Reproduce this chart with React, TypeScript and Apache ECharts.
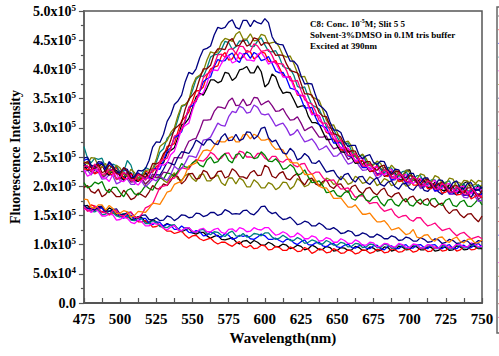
import React, { useEffect, useRef } from "react";
import * as echarts from "echarts";

// Emission wavelengths (nm), sampled every 2.5 nm from 475 to 750
const wavelengths: number[] = [];
for (let w = 475; w <= 750; w += 2.5) wavelengths.push(w);

// Fluorescence intensity of each spectrum, in units of 10^4 counts
const s01Black = [16.6,16.7,16.0,15.9,16.4,16.3,15.6,16.3,15.9,15.1,15.0,15.3,15.2,14.3,14.4,14.8,14.6,13.9,13.8,14.3,13.9,13.2,13.2,13.6,13.3,13.3,12.6,12.2,12.5,12.8,12.0,11.8,12.1,12.1,11.5,11.1,11.4,11.6,10.9,10.8,11.0,11.2,10.5,10.1,10.6,10.7,10.2,10.7,10.4,9.9,9.9,10.4,10.1,9.6,9.7,10.1,9.9,9.3,9.5,9.9,9.7,9.1,9.3,9.9,9.6,9.1,9.2,9.7,9.5,8.9,9.0,9.5,9.4,9.0,9.1,9.7,9.5,9.0,9.0,9.6,9.4,8.9,9.0,9.6,9.5,8.9,9.1,9.7,9.6,9.1,9.2,9.8,9.6,9.1,9.1,9.6,9.5,8.9,9.0,9.6,9.5,9.0,9.1,9.8,9.6,9.1,9.2,9.8,9.7,9.3,9.3];
const s02Red = [16.2,16.1,16.8,16.6,15.8,15.6,15.9,15.1,15.3,15.6,15.1,14.7,14.6,15.0,14.4,13.9,13.9,14.1,13.7,13.0,13.1,13.4,12.8,12.3,12.3,11.9,12.1,12.3,11.6,11.1,11.5,11.6,11.0,10.7,10.9,11.1,10.5,10.1,10.4,10.4,10.0,9.7,10.2,10.5,9.7,9.5,9.9,9.3,9.4,9.9,9.8,9.1,9.2,9.7,9.5,9.0,9.0,9.6,9.3,8.8,8.9,9.5,9.2,8.5,8.8,9.3,9.1,8.6,8.7,9.3,9.0,8.5,8.6,9.1,8.9,8.4,8.6,9.1,9.0,8.5,8.7,9.2,9.1,8.6,8.7,9.3,9.1,8.7,8.8,9.3,9.2,8.7,8.9,9.4,9.3,8.8,8.9,9.6,9.4,8.9,9.0,9.6,9.5,8.9,9.1,9.7,9.6,9.1,9.2,9.6,9.5];
const s03Blue = [16.4,15.9,15.9,16.4,16.2,16.3,15.4,15.2,15.7,15.5,14.9,14.5,15.0,15.0,14.3,14.1,14.5,14.5,13.7,13.4,13.9,13.8,13.1,13.5,13.3,12.6,12.6,13.2,12.7,12.1,12.0,12.4,12.2,11.5,11.6,12.2,11.9,11.4,11.3,11.9,11.6,10.9,11.1,11.6,11.4,11.6,11.0,10.9,11.3,11.8,11.5,10.9,10.9,11.1,10.7,10.4,10.9,10.9,10.3,10.0,10.5,10.8,10.0,9.9,10.3,10.4,9.8,9.6,10.1,10.2,9.6,9.5,9.9,10.1,9.5,9.4,9.8,10.0,9.4,9.3,9.8,9.9,9.3,9.1,9.7,9.8,9.3,9.3,9.8,10.0,9.4,9.4,9.9,10.0,9.5,9.3,9.9,10.0,9.4,9.3,9.8,10.0,9.3,9.3,9.8,9.9,9.4,9.5,9.9,10.2,9.6];
const s04Cyan = [16.3,16.3,15.7,15.6,16.0,15.1,15.2,15.8,15.5,14.9,14.7,15.3,14.9,14.2,14.1,14.6,14.4,13.6,13.6,14.1,13.8,13.1,13.0,12.9,13.3,13.4,12.7,12.3,12.9,12.9,12.2,12.1,12.5,12.6,11.9,11.7,12.2,12.1,11.6,11.4,12.0,12.3,11.5,11.4,11.9,11.3,11.4,11.9,11.8,11.5,12.0,12.0,11.3,10.9,11.1,11.6,11.2,10.7,10.7,11.2,10.9,10.2,10.4,10.8,10.6,10.1,10.1,10.7,10.4,9.9,9.9,10.4,10.2,9.6,9.7,10.2,10.1,9.5,9.6,10.1,10.0,9.5,9.5,10.1,9.9,9.4,9.4,10.0,9.9,9.3,9.5,10.0,9.9,9.4,9.4,10.0,9.8,9.3,9.3,9.9,9.8,9.2,9.4,10.0,9.9,9.4,9.5,10.0,10.0,9.4,9.6];
const s05Magenta = [16.0,16.1,15.5,16.1,15.7,14.9,14.9,15.2,15.1,14.2,14.3,14.7,14.5,13.8,13.6,14.2,13.9,13.2,13.2,13.7,13.5,13.5,12.8,12.5,13.0,13.3,12.5,12.4,12.8,12.9,12.3,12.1,12.6,12.8,12.2,12.2,12.6,12.8,12.1,11.9,12.6,12.7,12.2,12.9,12.7,12.2,12.3,12.9,12.6,12.5,12.9,12.9,12.2,11.6,11.8,12.2,11.9,11.3,11.4,12.0,11.6,11.0,11.0,11.5,11.3,10.6,10.7,11.2,11.0,10.4,10.4,11.0,10.7,10.2,10.2,10.8,10.5,9.9,9.9,10.4,10.3,9.6,9.7,10.2,10.1,9.6,9.6,10.2,10.0,9.5,9.5,10.1,10.0,9.4,9.5,10.0,9.9,9.4,9.4,10.1,9.9,9.4,9.5,10.1,10.0,9.6,9.6,10.3,10.1,9.6,9.7];
const s06Olive = [23.2,23.4,22.5,23.7,23.0,21.8,22.0,22.6,22.4,21.1,21.5,22.3,21.8,20.9,21.0,21.9,21.3,20.3,20.9,21.7,21.4,21.8,21.0,20.6,21.6,22.3,21.2,21.0,21.8,22.2,21.3,20.8,21.9,22.1,20.9,20.9,21.6,21.9,20.6,20.1,21.4,21.4,20.4,21.4,21.0,19.9,19.9,21.1,20.6,19.7,19.7,20.6,20.3,19.4,19.8,20.7,20.6,19.5,20.0,21.3,20.8,19.9,20.2,21.1,21.0,20.0,20.4,21.4,21.1,20.3,20.5,21.7,21.2,20.3,20.6,21.7,21.3,20.5,20.7,21.6,21.2,20.1,20.5,21.3,21.0,20.1,20.3,21.3,20.8,20.0,20.2,21.1,20.7,19.7,20.0,20.8,20.6,19.7,19.9,20.9,20.4,19.6,19.8,20.8,20.5,19.8,19.9,21.1,20.6,19.8,20.2];
const s07Navy = [16.8,16.2,16.2,15.9,16.5,16.6,15.8,15.7,16.0,16.1,15.2,15.1,15.5,15.5,14.8,14.5,15.0,15.1,14.3,14.2,14.6,14.1,14.2,14.9,14.7,14.1,14.5,15.1,15.0,14.6,14.7,15.4,15.3,14.8,15.0,15.5,15.5,15.0,15.2,16.0,15.7,15.2,15.3,15.2,15.8,15.9,15.3,15.1,15.7,16.5,16.6,15.7,15.3,15.5,14.8,14.3,14.4,14.7,14.1,13.4,13.6,14.0,13.8,13.2,13.2,13.7,13.3,12.7,12.6,12.9,12.5,11.9,12.0,12.4,12.2,11.5,11.6,12.0,11.8,11.3,11.3,11.8,11.5,11.0,11.0,11.5,11.3,10.7,10.8,11.3,11.1,10.6,10.6,11.2,10.9,10.4,10.5,11.0,10.8,10.2,10.4,10.9,10.7,10.2,10.3,10.7,10.6,10.0,10.2,10.7,10.5];
const s08Wine = [19.8,20.1,19.1,18.8,19.5,18.2,18.6,19.5,18.9,18.2,18.2,19.3,18.6,17.7,18.0,18.8,18.5,18.1,19.0,20.1,19.6,19.5,20.4,20.1,20.9,22.0,21.6,20.4,21.0,22.1,22.2,21.2,21.4,22.7,22.4,21.3,21.5,22.5,22.6,21.4,21.7,23.0,22.5,21.6,21.6,21.3,22.3,22.7,21.8,21.9,23.6,23.2,21.7,21.4,22.2,22.5,21.3,21.1,21.8,22.2,20.9,20.2,21.2,21.4,20.4,20.1,20.8,21.1,20.0,19.6,20.3,20.4,19.5,18.9,19.9,20.2,19.2,18.7,19.6,19.8,18.9,18.5,19.3,19.7,18.5,18.1,18.7,18.9,17.9,17.3,18.1,18.3,17.4,16.9,17.6,17.9,16.8,16.4,16.9,17.1,16.0,15.3,15.9,16.0,15.1,14.6,15.2,15.3,14.5,13.9,14.9];
const s09Pink = [16.5,15.7,16.0,16.6,16.3,15.5,15.5,15.1,15.8,15.9,15.0,14.9,15.3,15.6,14.7,14.6,15.2,16.3,16.6,17.0,18.4,19.8,20.0,20.2,21.2,21.4,22.3,23.2,23.0,22.9,23.9,24.6,24.4,24.3,24.9,25.8,25.4,24.6,24.8,25.6,25.7,24.7,24.9,26.0,25.8,25.0,25.0,24.8,25.6,25.6,24.8,24.4,25.1,25.1,24.3,24.1,24.6,24.6,23.6,23.3,23.8,23.9,22.7,22.0,22.4,22.4,21.5,20.9,21.0,21.1,20.2,19.5,19.6,19.7,19.0,18.1,18.3,18.4,17.7,17.0,17.2,17.2,16.3,15.7,15.9,16.1,15.1,14.6,14.9,15.0,14.3,14.0,14.6,14.6,13.8,13.2,13.4,13.7,13.0,12.4,12.6,12.8,12.1,11.5,11.9,12.1,11.5,11.0,11.2,11.4,11.0];
const s10Green = [20.6,19.7,20.0,20.7,20.4,20.8,19.4,18.9,19.8,19.8,18.9,18.2,19.3,19.6,18.7,18.5,19.2,20.1,19.6,19.3,20.5,21.4,21.2,22.3,22.1,21.7,22.6,23.9,23.3,23.2,24.0,24.4,23.6,23.3,24.5,25.0,24.0,24.2,25.1,25.6,24.4,24.0,25.4,25.6,24.7,25.9,25.6,24.7,24.9,25.9,25.3,24.3,24.2,24.7,24.0,22.9,23.1,23.7,23.2,21.9,22.1,22.8,21.6,20.6,20.7,20.9,20.1,18.9,19.0,19.3,18.4,18.2,18.9,19.2,17.9,17.6,18.4,18.7,17.6,17.4,18.1,18.3,17.2,16.6,17.6,17.8,16.9,16.6,17.5,17.9,16.8,16.6,17.4,17.8,16.9,16.7,17.8,17.9,17.0,16.7,17.6,17.9,16.7,16.5,17.3,17.6,16.6,16.5,17.1,17.8,16.8];
const s11Violet = [22.5,22.7,21.9,23.1,22.4,21.2,21.3,22.0,21.8,20.4,20.7,21.6,21.2,20.3,20.3,21.3,20.8,19.9,20.5,21.2,20.9,21.7,21.3,21.0,22.0,23.4,22.9,23.0,24.0,25.2,25.1,24.9,26.3,27.9,28.0,28.4,29.6,30.8,30.4,30.3,31.9,32.8,32.6,33.7,33.4,32.5,32.7,33.9,33.5,32.4,32.2,32.4,31.4,30.3,30.6,30.8,29.9,28.7,29.0,29.7,28.6,27.6,27.8,28.1,27.3,26.2,26.5,26.9,26.0,25.1,25.2,25.8,24.7,23.8,24.0,24.5,23.5,22.7,22.8,23.2,22.4,21.3,21.7,22.4,22.0,21.0,21.1,21.9,21.3,20.4,20.4,21.2,20.7,19.6,19.8,20.5,20.1,19.1,19.2,20.1,19.5,18.6,18.6,19.4,18.9,18.1,18.0,19.0,18.3,17.4,17.6];
const s12Orange = [17.8,17.7,16.4,16.2,16.8,16.8,15.9,16.7,16.2,15.3,15.4,15.8,15.6,14.7,15.0,15.7,15.6,15.5,16.2,17.1,17.0,16.9,17.9,19.0,19.2,20.3,20.6,20.8,22.0,23.5,23.7,24.0,25.1,26.1,26.2,26.0,26.9,27.8,27.6,27.6,28.2,28.5,27.6,27.6,28.8,28.9,28.1,28.9,28.6,27.9,27.9,28.1,27.0,26.3,26.4,26.2,25.1,24.1,24.0,24.0,23.2,22.0,22.0,22.1,21.0,20.0,19.7,19.7,18.9,17.9,17.9,18.0,17.2,16.4,16.4,16.8,16.0,15.2,15.2,15.4,14.6,13.9,13.9,14.1,13.4,12.5,12.7,12.9,12.3,11.7,11.9,12.6,11.3,11.1,11.6,11.7,10.9,10.6,11.2,11.3,10.6,10.4,11.0,11.3,10.5,10.3,10.9,11.0,10.3,10.3,10.8];
const s13Purple = [23.1,23.4,22.4,22.2,22.9,21.5,21.8,22.8,22.3,21.4,21.2,22.4,21.7,20.7,20.8,21.5,21.2,20.4,21.0,22.1,21.5,21.5,22.4,22.3,23.4,24.9,24.9,24.8,26.4,27.7,28.0,28.2,29.6,31.3,31.3,31.4,32.8,33.6,33.5,33.3,34.6,35.1,33.8,33.9,34.9,33.8,34.0,35.2,35.1,33.9,34.3,34.6,33.8,32.8,32.9,33.3,32.2,31.3,31.4,31.9,30.8,29.5,29.9,30.2,29.3,28.4,28.4,28.6,27.3,26.4,26.6,26.7,25.7,24.6,25.0,25.2,24.1,23.2,23.6,23.8,23.0,22.1,22.3,23.3,22.6,21.6,21.6,22.4,21.9,20.7,20.9,21.6,21.2,20.2,20.3,21.2,20.6,19.7,19.7,20.5,20.0,18.8,19.0,19.7,19.4,18.4,18.5,19.1,18.9,17.8,18.2];
const s14Navy = [24.0,23.2,23.3,22.7,23.8,23.9,22.6,22.4,23.0,23.4,21.9,21.6,22.4,22.3,21.2,20.8,21.7,22.4,21.4,21.2,22.0,21.9,22.9,24.1,23.9,23.6,25.0,25.9,25.8,25.6,26.6,27.9,27.5,27.0,27.9,28.0,27.3,27.1,28.4,29.0,27.8,27.9,28.9,27.8,28.1,29.3,29.2,28.1,28.6,29.9,30.1,28.3,27.6,27.9,26.8,25.7,25.5,26.5,25.9,24.5,24.8,25.6,25.1,24.0,23.9,24.4,23.4,22.4,22.6,22.7,21.7,21.1,22.0,22.2,21.2,20.7,21.6,21.7,20.7,20.3,21.0,21.5,20.3,20.0,20.7,20.9,19.9,19.5,20.4,20.5,19.6,19.3,20.1,20.4,19.3,19.1,19.8,20.0,19.0,18.6,19.5,19.7,18.8,18.5,19.3,19.4,18.6,18.1,19.1,19.5,18.7];
const s15Black = [23.6,22.7,22.9,23.7,23.4,23.8,22.3,21.9,22.8,22.7,21.7,21.0,22.1,22.2,21.1,20.8,21.5,22.2,21.4,21.2,22.6,23.8,24.0,25.7,26.1,26.6,28.4,30.5,30.8,31.6,33.4,35.3,35.9,35.6,36.8,38.2,38.2,37.7,38.0,39.5,39.3,38.1,38.6,39.9,40.1,40.5,39.4,39.4,40.6,39.6,37.0,37.6,39.2,38.7,37.0,35.9,36.1,36.0,34.8,33.5,33.7,33.8,32.0,30.9,30.9,30.6,29.3,28.0,28.0,28.1,26.9,25.9,25.8,26.2,24.9,23.9,24.0,24.4,23.4,22.5,22.6,23.5,23.1,21.7,21.9,22.6,22.3,21.1,21.1,22.7,22.8,21.2,20.6,21.4,21.0,19.8,19.9,20.7,20.4,19.3,19.3,20.3,19.9,19.0,19.0,20.5,20.8,19.6,19.2,20.2,19.6];
const s16Red = [23.0,22.8,23.6,22.1,22.4,23.4,23.0,22.1,22.0,23.2,22.5,21.3,21.3,22.1,21.9,20.9,21.2,22.6,22.3,22.4,23.4,23.7,25.1,26.8,27.0,27.3,29.4,31.2,31.9,32.7,34.6,36.3,36.4,37.0,38.9,40.1,40.4,40.6,42.3,42.9,41.6,41.8,42.9,41.8,42.1,43.2,43.0,41.8,42.2,43.0,42.8,41.4,41.2,41.5,40.3,39.0,38.6,38.8,37.4,35.6,35.5,35.4,34.0,32.6,32.1,32.1,30.6,29.2,28.9,28.9,27.8,26.2,26.2,26.5,25.6,24.2,24.1,24.5,23.8,22.6,22.6,23.6,22.9,21.8,21.7,22.5,22.0,20.8,20.9,21.6,21.3,20.2,20.2,21.1,20.6,19.6,19.6,20.4,20.0,18.8,19.0,19.8,19.5,18.5,18.6,19.2,19.0,17.8,18.2,18.7,18.0];
const s17Blue = [24.4,24.7,23.3,23.0,23.9,23.9,22.8,24.0,23.3,22.1,22.2,22.8,22.6,21.2,21.5,22.3,21.8,21.2,21.6,23.0,23.0,22.9,24.4,26.0,26.6,28.3,28.7,29.3,31.3,33.5,33.8,34.5,36.2,37.9,38.4,38.7,40.5,41.7,41.4,41.5,42.4,42.8,41.6,41.2,42.6,42.8,41.9,42.9,42.5,41.5,41.7,42.2,41.0,39.7,39.4,39.5,38.4,36.8,36.6,36.3,35.0,33.4,33.4,33.5,31.8,30.5,30.3,30.0,28.7,27.4,27.4,27.5,26.3,25.2,25.0,25.5,24.4,23.2,23.2,23.8,23.0,22.0,22.0,22.8,22.4,21.1,21.3,22.0,21.7,20.6,20.7,21.6,21.0,20.0,20.0,20.8,20.4,19.2,19.4,20.2,19.9,18.8,18.9,19.9,19.4,18.5,18.5,19.4,19.1,18.5,18.6];
const s18Cyan = [26.8,24.8,24.0,24.8,24.6,24.8,23.2,22.8,23.8,23.5,22.3,22.5,24.4,23.6,21.6,21.3,22.0,23.2,22.9,22.7,24.1,25.8,26.4,28.2,28.8,29.5,31.5,33.6,33.9,34.7,36.4,38.3,38.9,38.8,40.2,42.1,42.5,42.6,43.4,44.8,44.6,43.4,43.9,44.9,44.8,45.1,44.0,43.9,44.9,45.4,44.2,43.1,43.0,43.2,42.1,40.5,40.2,40.1,39.0,37.1,36.8,37.0,35.3,33.9,33.6,33.2,31.8,30.2,30.0,29.8,28.4,27.3,27.2,27.4,26.0,25.0,25.1,25.4,24.2,23.5,23.8,24.0,22.9,22.3,23.2,23.1,22.0,21.7,22.5,22.6,21.3,21.1,21.8,21.8,20.6,20.2,21.1,21.1,20.0,19.8,20.7,20.9,19.6,19.5,20.3,20.4,19.2,19.2,19.9,20.3,19.0];
const s19Magenta = [22.8,21.7,22.1,23.0,22.6,21.5,21.4,20.8,22.0,22.2,20.9,20.8,21.4,21.9,20.6,20.2,21.0,21.7,21.3,21.1,22.2,23.7,23.6,24.0,25.4,26.0,27.8,29.8,30.4,30.8,33.0,34.8,35.6,36.0,37.6,39.6,39.9,39.8,41.0,42.1,42.3,41.1,41.4,42.9,42.5,41.6,41.6,41.4,42.6,42.9,42.0,40.9,41.3,41.1,39.9,38.7,38.7,38.6,37.0,35.8,35.6,35.5,33.7,32.2,32.4,32.1,30.5,29.4,29.2,29.1,27.5,26.5,26.6,26.5,25.3,24.2,24.7,24.8,23.6,22.7,23.2,23.3,22.3,21.9,22.6,22.9,21.5,21.2,21.9,22.0,20.9,20.4,21.3,21.3,20.3,20.0,20.8,21.0,19.8,19.6,20.3,20.5,19.4,19.0,19.9,20.0,19.0,18.7,19.6,19.8,19.2];
const s20Olive = [24.2,23.8,24.9,24.8,23.4,23.2,23.9,22.4,22.6,23.6,23.1,22.0,21.7,22.9,22.3,21.3,21.5,22.7,22.8,23.0,24.6,26.8,27.3,27.8,29.2,30.0,32.1,33.8,34.0,34.7,37.2,38.6,39.0,39.7,41.6,43.0,42.8,43.0,44.6,45.3,45.1,44.8,46.0,46.5,45.2,45.2,46.1,44.9,45.0,46.0,45.8,44.4,44.6,44.7,43.8,42.4,42.1,42.3,41.0,39.4,38.7,38.8,37.3,35.3,35.0,34.7,33.1,31.3,30.4,30.5,29.2,27.8,27.5,27.7,26.8,25.1,25.0,25.5,24.7,23.5,23.6,24.3,23.9,22.7,22.6,23.6,22.9,21.9,21.8,22.7,22.4,21.1,21.2,22.1,21.9,20.7,20.7,21.8,21.5,20.5,20.4,21.4,21.2,20.0,20.1,21.0,20.9,20.0,20.3,21.0,20.8];
const s21Navy = [24.8,25.0,23.6,23.3,24.2,24.1,23.0,24.2,23.5,22.3,22.4,23.1,22.9,21.4,21.6,22.7,22.6,23.0,24.4,26.7,27.6,27.5,28.9,31.1,32.2,34.0,34.6,35.6,37.9,39.5,39.2,40.1,42.0,43.4,43.6,44.0,45.9,47.2,47.0,47.2,48.1,48.5,47.2,46.9,48.4,48.4,47.3,48.4,48.0,47.8,48.7,48.0,45.6,44.5,44.3,44.2,42.8,41.4,41.4,40.7,38.9,37.5,37.6,37.5,35.6,33.9,33.4,32.7,31.0,29.6,29.6,29.2,27.6,26.8,27.0,27.0,25.4,24.7,25.2,25.4,24.1,23.7,24.3,24.2,22.8,22.1,22.9,22.8,21.7,21.4,22.2,22.2,20.8,20.6,21.4,21.4,20.2,20.0,21.1,21.0,19.8,19.6,20.6,20.9,19.7,19.6,20.5,20.6,19.4,19.3,19.9];
const s22Wine = [23.9,24.2,23.2,23.0,23.8,22.3,22.6,23.6,23.1,22.2,22.0,23.2,22.5,21.3,21.3,22.1,21.9,21.5,22.4,23.9,23.8,24.2,25.6,26.2,27.9,29.8,30.3,30.9,33.2,34.9,35.6,36.4,38.4,40.1,40.1,40.7,42.6,43.5,43.5,43.4,44.8,45.3,44.0,44.1,45.1,44.0,44.3,45.4,45.2,44.1,44.6,44.5,43.4,42.4,42.5,42.4,40.9,39.8,39.6,39.4,37.6,35.8,35.8,35.6,34.2,32.6,32.0,31.9,30.3,29.0,28.8,28.4,27.0,25.8,26.1,26.0,24.6,23.7,24.2,24.2,23.1,22.7,23.4,23.6,22.2,21.9,22.5,22.6,21.4,20.9,21.8,21.7,20.6,20.2,21.0,21.2,19.9,19.7,20.5,20.6,19.4,19.0,20.0,20.1,19.1,18.8,19.7,19.7,18.8,18.3,19.3];
const s23Pink = [23.4,23.5,22.6,23.8,23.1,22.0,22.2,22.9,22.7,21.2,21.5,22.4,22.0,21.0,21.0,22.0,21.6,21.0,21.9,22.9,22.8,24.3,24.5,24.8,26.4,28.6,28.9,29.7,31.4,33.5,34.3,34.6,36.5,38.6,39.2,39.6,40.8,42.5,42.6,42.1,43.4,43.6,42.7,44.0,43.9,42.9,43.1,44.4,44.0,43.1,43.2,43.4,42.4,41.0,41.0,40.9,39.8,38.1,38.0,38.1,36.4,34.8,34.3,34.1,32.9,31.2,30.8,30.8,29.5,28.1,27.6,27.9,26.6,25.3,25.2,25.6,24.6,23.5,23.4,23.8,23.0,21.8,22.1,22.8,22.5,21.4,21.4,22.3,21.8,20.8,20.7,21.6,21.2,20.0,20.1,20.9,20.6,19.5,19.5,20.5,20.0,19.0,19.0,19.9,19.5,18.7,18.6,19.7,19.1,18.2,18.4];

const spectra = [s01Black, s02Red, s03Blue, s04Cyan, s05Magenta, s06Olive, s07Navy, s08Wine, s09Pink, s10Green, s11Violet, s12Orange, s13Purple, s14Navy, s15Black, s16Red, s17Blue, s18Cyan, s19Magenta, s20Olive, s21Navy, s22Wine, s23Pink];
const lineColors = ["#000000", "#ff0000", "#0000ff", "#008080", "#ff00ff", "#808000", "#000080", "#800000", "#ff0080", "#008000", "#8a2be2", "#ff8000", "#800080", "#000080", "#000000", "#ff0000", "#0000ff", "#008080", "#ff00ff", "#808000", "#000080", "#800000", "#ff0080"];

// Y tick labels: mantissa shown before the power of ten
const yTickMantissa: Record<number, string> = { 0: "0.0", 5: "5.0", 10: "1.0", 15: "1.5", 20: "2.0", 25: "2.5", 30: "3.0", 35: "3.5", 40: "4.0", 45: "4.5", 50: "5.0" };

const annotation = ["C8: Conc. 10", "-5", "M; Slit 5 5", "Solvent-3%DMSO in 0.1M tris buffer", "Excited at 390nm"];

const FONT = "'Liberation Serif', 'Times New Roman', serif";

export default function App() {
  const ref = useRef<HTMLDivElement>(null);

  useEffect(() => {
    if (!ref.current) return;
    const chart = echarts.init(ref.current, undefined, { renderer: "svg" });

    const series = spectra.map((vals, k) => ({
      type: "line" as const,
      name: "S" + (k + 1),
      data: vals.map((v, i) => [wavelengths[i], v]),
      showSymbol: false,
      symbol: "none",
      lineStyle: { color: lineColors[k], width: 1.3 },
      itemStyle: { color: lineColors[k] },
    }));

    // Legend frame at the right edge with a short colour dash per spectrum
    const legendMarks = lineColors.map((c, k) => ({
      type: "line",
      shape: { x1: 498.5, y1: 16 + k * 13.7, x2: 504, y2: 16 + k * 13.7 },
      style: { stroke: c, lineWidth: 1 },
      silent: true,
    }));

    chart.setOption({
      animation: false,
      backgroundColor: "#ffffff",
      grid: {
        left: 83,
        right: 17,
        top: 11,
        bottom: 53,
        show: true,
        borderColor: "#555555",
        borderWidth: 1.5,
        backgroundColor: "transparent",
      },
      xAxis: {
        type: "value",
        min: 475,
        max: 750,
        interval: 25,
        name: "Wavelength(nm)",
        nameLocation: "middle",
        nameGap: 22,
        nameTextStyle: { fontFamily: FONT, fontWeight: "bold", fontSize: 15, color: "#000", verticalAlign: "top" },
        axisLine: { show: true, lineStyle: { color: "#555555", width: 2 } },
        axisTick: { show: true, inside: true, length: 5, lineStyle: { color: "#555555", width: 1.2 } },
        minorTick: { show: true, splitNumber: 2, length: 5, lineStyle: { color: "#555555", width: 1.2 } },
        splitLine: { show: false },
        axisLabel: { fontFamily: FONT, fontWeight: "bold", fontSize: 15, color: "#000", margin: 8 },
      },
      yAxis: {
        type: "value",
        min: 0,
        max: 50,
        interval: 5,
        name: "Fluorescence Intensity",
        nameLocation: "middle",
        nameGap: 57,
        nameRotate: 90,
        nameTextStyle: { fontFamily: FONT, fontWeight: "bold", fontSize: 14, color: "#000" },
        axisLine: { show: true, lineStyle: { color: "#666666", width: 2 } },
        axisTick: { show: true, inside: false, length: 5, lineStyle: { color: "#555555", width: 1.2 } },
        minorTick: { show: true, splitNumber: 2, length: 3, lineStyle: { color: "#555555", width: 1.2 } },
        splitLine: { show: false },
        axisLabel: {
          margin: 8,
          formatter: (v: number) => {
            const m = yTickMantissa[v] ?? String(v);
            if (v === 0) return "{m|" + m + "}";
            const p = v >= 10 ? "5" : "4";
            return "{m|" + m + "x10}{s|" + p + "}";
          },
          rich: {
            m: { fontFamily: FONT, fontWeight: "bold", fontSize: 14, color: "#000", lineHeight: 16 },
            s: { fontFamily: FONT, fontWeight: "bold", fontSize: 9, color: "#000", verticalAlign: "top", lineHeight: 9 },
          },
        },
      },
      graphic: [
        {
          type: "text",
          left: 310,
          top: 18,
          silent: true,
          style: {
            text:
              "{a|" + annotation[0] + "}{s|" + annotation[1] + "}{a|" + annotation[2] + "}\n{a|" + annotation[3] + "}\n{a|" + annotation[4] + "}",
            rich: {
              a: { fontFamily: FONT, fontWeight: "bold", fontSize: 9, color: "#000", lineHeight: 11 },
              s: { fontFamily: FONT, fontWeight: "bold", fontSize: 6, color: "#000", verticalAlign: "top", lineHeight: 6 },
            },
          },
        },
        {
          type: "rect",
          silent: true,
          shape: { x: 497, y: 7, width: 20, height: 326 },
          style: { fill: "none", stroke: "#666666", lineWidth: 1.5 },
        },
        ...legendMarks,
      ],
      series,
    });

    return () => chart.dispose();
  }, []);

  return <div ref={ref} style={{ position: "absolute", left: 0, top: 0, width: 499, height: 356, background: "#fff" }} />;
}
